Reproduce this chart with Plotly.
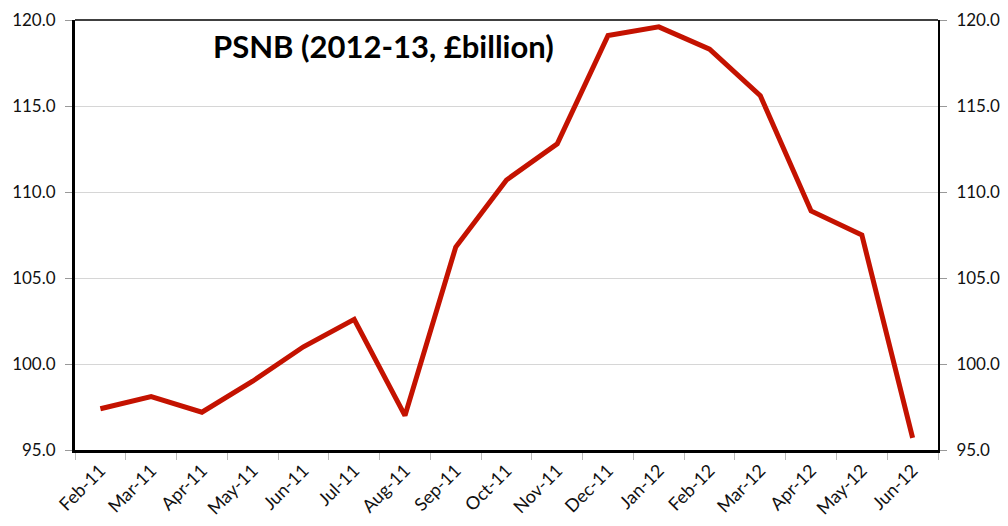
import plotly.graph_objects as go

months = ["Feb-11", "Mar-11", "Apr-11", "May-11", "Jun-11", "Jul-11", "Aug-11",
          "Sep-11", "Oct-11", "Nov-11", "Dec-11", "Jan-12", "Feb-12", "Mar-12",
          "Apr-12", "May-12", "Jun-12"]
psnb = [97.4, 98.1, 97.2, 99.0, 101.0, 102.6, 97.0, 106.8, 110.7, 112.8,
        119.1, 119.6, 118.3, 115.6, 108.9, 107.5, 95.7]

y_ticks = [95, 100, 105, 110, 115, 120]
y_labels = [f"{v:.1f}" for v in y_ticks]

FONT = "Lato, 'Open Sans', sans-serif"

fig = go.Figure()
fig.add_trace(go.Scatter(x=months, y=psnb, mode="lines",
                         line=dict(color="#C41200", width=5),
                         hoverinfo="x+y", showlegend=False))
# invisible copy on the right-hand axis so it gets its own ticks
fig.add_trace(go.Scatter(x=months, y=psnb, mode="lines", yaxis="y2",
                         line=dict(color="rgba(0,0,0,0)", width=0),
                         hoverinfo="skip", showlegend=False))

yaxis_common = dict(range=[95, 120], tickvals=y_ticks, ticktext=y_labels,
                    ticks="outside", ticklen=7, tickcolor="#999999",
                    tickfont=dict(family=FONT, size=17, color="#111111"),
                    showline=True, linecolor="black", zeroline=False,
                    automargin=False)

fig.update_layout(
    width=1008, height=526,
    margin=dict(l=75, r=70, t=20, b=76),
    paper_bgcolor="white", plot_bgcolor="white",
    xaxis=dict(type="category", tickson="boundaries", ticks="outside",
               ticklen=7, tickcolor="#bbbbbb", tickangle=-45,
               tickfont=dict(family=FONT, size=18, color="#111111"),
               showline=True, linecolor="black", linewidth=3,
               showgrid=False, range=[-0.5, len(months) - 0.5],
               automargin=False),
    yaxis=dict(**yaxis_common, linewidth=3, side="left",
               showgrid=True, gridcolor="#d6d6d6", gridwidth=1, ticklabelstandoff=6),
    yaxis2=dict(**yaxis_common, linewidth=2, side="right", overlaying="y",
                showgrid=False, ticklabelstandoff=6),
    shapes=[dict(type="line", xref="paper", yref="paper", x0=0, x1=1, y0=1, y1=1,
                 line=dict(color="black", width=1.5))],
    annotations=[dict(text="<b>PSNB (2012-13, £billion)</b>", xref="paper", yref="paper",
                      x=0.358, y=0.94, xanchor="center", yanchor="middle",
                      showarrow=False,
                      font=dict(family=FONT, size=31, color="black"))],
)

fig.write_html("out.html")
